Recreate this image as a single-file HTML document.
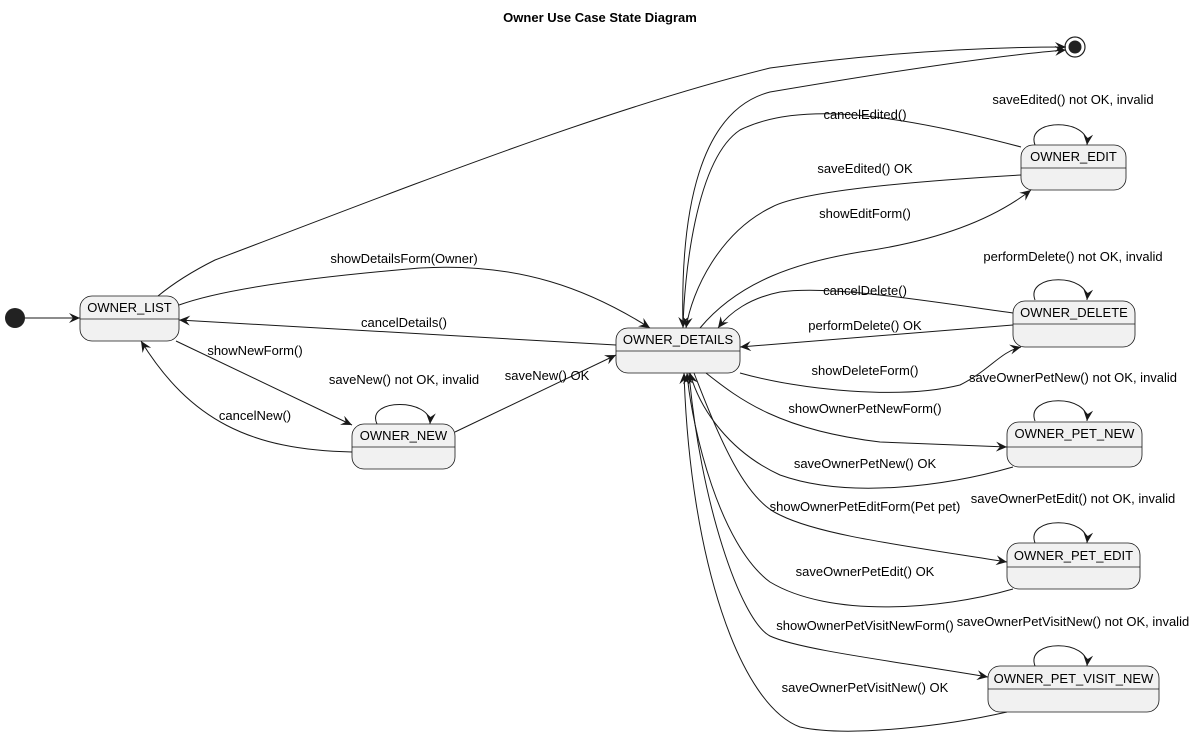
<!DOCTYPE html>
<html><head><meta charset="utf-8"><style>
html,body{margin:0;padding:0;background:#fff;}
svg{display:block;font-family:"Liberation Sans","DejaVu Sans",sans-serif;}
</style></head><body>
<svg width="1200" height="753" viewBox="0 0 1200 753" xmlns="http://www.w3.org/2000/svg">
<defs>
<marker id="a" viewBox="0 0 12 10" refX="11" refY="5" markerWidth="12" markerHeight="10" markerUnits="userSpaceOnUse" orient="auto">
<path d="M0,0 L11,5 L0,10 L4,5 Z" fill="#181818"/>
</marker>
</defs>
<text x="600" y="22" text-anchor="middle" font-size="13" font-weight="bold">Owner Use Case State Diagram</text>

<g fill="none" stroke="#181818" stroke-width="1" marker-end="url(#a)">
<path d="M24,318 L80,318"/>
<path d="M158,296 C175,282 195,270 215,260 C400,190 600,110 770,68 C900,50 1000,47 1066,47"/>
<path d="M683,328 C680,210 700,110 770,92 C900,70 1000,55 1066,50"/>
<path d="M179,305 C220,290 300,278 420,268 C520,262 590,290 650,328"/>
<path d="M616,345 L179,320"/>
<path d="M176,341 L352,425"/>
<path d="M352,452 C250,450 190,420 141,341"/>
<path d="M377,424 C365,398 432,398 430,424"/>
<path d="M455,432 L616,355"/>
<path d="M1021,147 C900,115 800,100 740,130 C695,160 684,280 683,328"/>
<path d="M1021,175 C900,182 800,192 772,207 C720,232 692,290 686,328"/>
<path d="M700,328 C740,280 800,262 860,252 C930,242 990,222 1031,190"/>
<path d="M1013,313 C920,300 830,285 780,292 C750,298 730,312 718,328"/>
<path d="M1013,325 L740,347"/>
<path d="M740,373 C800,390 900,400 960,385 C990,370 1000,352 1021,347"/>
<path d="M1035,145 C1025,118 1090,118 1087,145"/>
<path d="M1035,300 C1025,273 1090,273 1087,300"/>
<path d="M1035,421 C1025,394 1090,394 1087,421"/>
<path d="M1035,543 C1025,516 1090,516 1087,543"/>
<path d="M1035,666 C1025,639 1090,639 1087,666"/>
<path d="M706,373 C740,400 780,430 880,442 L1007,447"/>
<path d="M1013,467 C950,485 850,500 780,475 C730,452 700,410 690,373"/>
<path d="M694,373 C720,440 745,500 780,515 C820,535 900,545 1007,562"/>
<path d="M1013,589 C940,610 830,618 770,582 C720,545 692,430 687,373"/>
<path d="M689,373 C700,500 740,620 770,636 C800,650 900,662 988,677"/>
<path d="M1007,712 C950,725 850,738 800,727 C740,705 690,560 684,373"/>
</g>

<circle cx="15" cy="318" r="10" fill="#222"/>
<circle cx="1075" cy="47" r="10" fill="none" stroke="#222" stroke-width="1.2"/>
<circle cx="1075" cy="47" r="6.5" fill="#222"/>

<g fill="#f1f1f1" stroke="#181818" stroke-width="0.8">
<rect x="80" y="296" width="99" height="45" rx="12"/>
<rect x="352" y="424" width="103" height="45" rx="12"/>
<rect x="616" y="328" width="124" height="45" rx="12"/>
<rect x="1021" y="145" width="105" height="45" rx="12"/>
<rect x="1013" y="301" width="122" height="46" rx="12"/>
<rect x="1007" y="422" width="135" height="45" rx="12"/>
<rect x="1007" y="543" width="133" height="46" rx="12"/>
<rect x="988" y="666" width="171" height="46" rx="12"/>
</g>
<g stroke="#181818" stroke-width="0.8">
<line x1="80" y1="319" x2="179" y2="319"/>
<line x1="352" y1="447" x2="455" y2="447"/>
<line x1="616" y1="351" x2="740" y2="351"/>
<line x1="1021" y1="168" x2="1126" y2="168"/>
<line x1="1013" y1="324" x2="1135" y2="324"/>
<line x1="1007" y1="447" x2="1142" y2="447"/>
<line x1="1007" y1="567" x2="1140" y2="567"/>
<line x1="988" y1="689" x2="1159" y2="689"/>
</g>
<g font-size="13" fill="#000" text-anchor="middle">
<text x="129.5" y="312">OWNER_LIST</text>
<text x="403.5" y="440">OWNER_NEW</text>
<text x="678" y="344">OWNER_DETAILS</text>
<text x="1073.5" y="161">OWNER_EDIT</text>
<text x="1074" y="317">OWNER_DELETE</text>
<text x="1074.5" y="438">OWNER_PET_NEW</text>
<text x="1073.5" y="560">OWNER_PET_EDIT</text>
<text x="1073.5" y="683">OWNER_PET_VISIT_NEW</text>

<text x="404" y="263">showDetailsForm(Owner)</text>
<text x="404" y="327">cancelDetails()</text>
<text x="255" y="355">showNewForm()</text>
<text x="404" y="384">saveNew() not OK, invalid</text>
<text x="255" y="420">cancelNew()</text>
<text x="547" y="380">saveNew() OK</text>
<text x="865" y="119">cancelEdited()</text>
<text x="865" y="173">saveEdited() OK</text>
<text x="865" y="218">showEditForm()</text>
<text x="1073" y="104">saveEdited() not OK, invalid</text>
<text x="1073" y="261">performDelete() not OK, invalid</text>
<text x="865" y="295">cancelDelete()</text>
<text x="865" y="330">performDelete() OK</text>
<text x="865" y="375">showDeleteForm()</text>
<text x="1073" y="382">saveOwnerPetNew() not OK, invalid</text>
<text x="865" y="413">showOwnerPetNewForm()</text>
<text x="865" y="468">saveOwnerPetNew() OK</text>
<text x="1073" y="503">saveOwnerPetEdit() not OK, invalid</text>
<text x="865" y="511">showOwnerPetEditForm(Pet pet)</text>
<text x="865" y="576">saveOwnerPetEdit() OK</text>
<text x="1073" y="626">saveOwnerPetVisitNew() not OK, invalid</text>
<text x="865" y="630">showOwnerPetVisitNewForm()</text>
<text x="865" y="692">saveOwnerPetVisitNew() OK</text>
</g>
</svg>
</body></html>
